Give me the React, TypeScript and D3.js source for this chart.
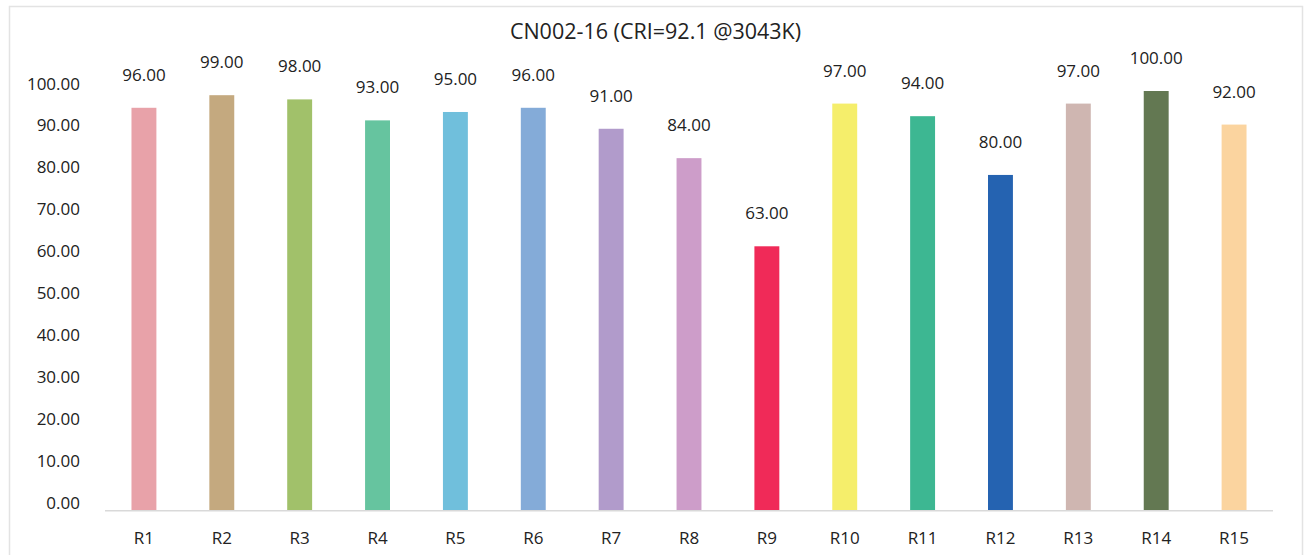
import * as d3 from "d3";

const TITLE = "CN002-16 (CRI=92.1 @3043K)";
const categories = ["R1", "R2", "R3", "R4", "R5", "R6", "R7", "R8", "R9", "R10", "R11", "R12", "R13", "R14", "R15"];
const values = [96, 99, 98, 93, 95, 96, 91, 84, 63, 97, 94, 80, 97, 100, 92];
const colors = [
  "#e8a2a9", "#c4a97f", "#a1c16a", "#66c49f", "#70bfdc", "#84abd8", "#b19bcb", "#cd9dc9",
  "#f02a58", "#f5ee6b", "#3db792", "#2563b1", "#cfb6b1", "#637852", "#fbd49f",
];
const yTicks = [0, 10, 20, 30, 40, 50, 60, 70, 80, 90, 100];

const W = 1310;
const H = 555;
const FONT = "'Open Sans', 'Noto Sans', sans-serif";

export default function App() {
  const x = d3.scaleBand<string>().domain(categories).range([105, 1273]).paddingInner(0.68).paddingOuter(0.34);
  const y = d3.scaleLinear().domain([0, 100]).range([510.7, 91]);
  const bw = x.bandwidth();

  return (
    <svg width={W} height={H} style={{ position: "absolute", left: 0, top: 0, background: "#fff" }}>
      <rect x={9.5} y={6.5} width={1293} height={560} fill="#fff" stroke="#e3e3e3" strokeWidth={1.5} />
      <text x={655.5} y={39} textAnchor="middle" fontFamily={FONT} fontSize={21.5} fill="#222">
        {TITLE}
      </text>
      {yTicks.map((t) => (
        <text key={t} x={80} y={y(t) - 1.5} textAnchor="end" fontFamily={FONT} fontSize={17} fill="#222">
          {t.toFixed(2)}
        </text>
      ))}
      {categories.map((c, i) => (
        <g key={c}>
          <rect x={x(c)} y={y(values[i])} width={bw} height={y(0) - y(values[i])} fill={colors[i]} />
          <text
            x={(x(c) ?? 0) + bw / 2}
            y={y(values[i]) - 27}
            textAnchor="middle"
            fontFamily={FONT}
            fontSize={17}
            fill="#222"
          >
            {values[i].toFixed(2)}
          </text>
          <text x={(x(c) ?? 0) + bw / 2} y={544} textAnchor="middle" fontFamily={FONT} fontSize={17} fill="#222">
            {c}
          </text>
        </g>
      ))}
      <line x1={105} x2={1273} y1={y(0)} y2={y(0)} stroke="#d9d9d9" strokeWidth={1.5} />
    </svg>
  );
}
